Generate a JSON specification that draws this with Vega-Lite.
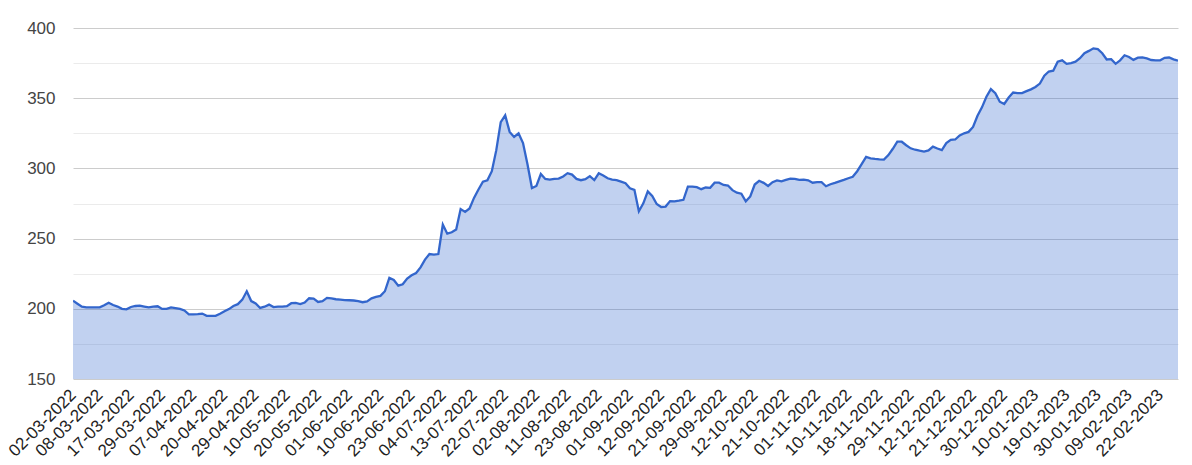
{
  "$schema": "https://vega.github.io/schema/vega-lite/v6.json",
  "width": 1105,
  "height": 351,
  "autosize": {"type": "none"},
  "padding": {"left": 73, "top": 28, "right": 14, "bottom": 86},
  "background": "white",
  "config": {"view": {"stroke": null}, "font": "Liberation Sans"},
  "data": {"values": [
    {"date":"02-03-2022","price":205.8},{"date":"03-03-2022","price":203.6},{"date":"04-03-2022","price":201.5},{"date":"05-03-2022","price":201},{"date":"06-03-2022","price":201},{"date":"07-03-2022","price":201},{"date":"08-03-2022","price":201},
    {"date":"09-03-2022","price":202.5},{"date":"10-03-2022","price":204.3},{"date":"11-03-2022","price":202.7},{"date":"14-03-2022","price":201.6},{"date":"15-03-2022","price":200},{"date":"16-03-2022","price":199.6},{"date":"17-03-2022","price":201.3},
    {"date":"18-03-2022","price":202},{"date":"21-03-2022","price":202.2},{"date":"22-03-2022","price":201.6},{"date":"23-03-2022","price":201},{"date":"24-03-2022","price":201.6},{"date":"28-03-2022","price":201.8},{"date":"29-03-2022","price":199.9},
    {"date":"30-03-2022","price":199.9},{"date":"31-03-2022","price":201},{"date":"01-04-2022","price":200.5},{"date":"04-04-2022","price":200},{"date":"05-04-2022","price":198.8},{"date":"06-04-2022","price":196},{"date":"07-04-2022","price":196},
    {"date":"08-04-2022","price":196.2},{"date":"11-04-2022","price":196.6},{"date":"12-04-2022","price":195},{"date":"13-04-2022","price":195},{"date":"18-04-2022","price":195},{"date":"19-04-2022","price":196.5},{"date":"20-04-2022","price":198.3},
    {"date":"21-04-2022","price":199.8},{"date":"22-04-2022","price":202},{"date":"25-04-2022","price":203.3},{"date":"26-04-2022","price":206.5},{"date":"27-04-2022","price":212.5},{"date":"28-04-2022","price":205.5},{"date":"29-04-2022","price":203.8},
    {"date":"02-05-2022","price":200.6},{"date":"03-05-2022","price":201.5},{"date":"04-05-2022","price":203},{"date":"05-05-2022","price":201.2},{"date":"06-05-2022","price":201.5},{"date":"09-05-2022","price":201.5},{"date":"10-05-2022","price":201.9},
    {"date":"11-05-2022","price":204},{"date":"12-05-2022","price":204.2},{"date":"13-05-2022","price":203.4},{"date":"17-05-2022","price":204.5},{"date":"18-05-2022","price":207.5},{"date":"19-05-2022","price":207.3},{"date":"20-05-2022","price":204.9},
    {"date":"23-05-2022","price":205.5},{"date":"24-05-2022","price":207.8},{"date":"25-05-2022","price":207.4},{"date":"26-05-2022","price":206.8},{"date":"30-05-2022","price":206.5},{"date":"31-05-2022","price":206.2},{"date":"01-06-2022","price":206.1},
    {"date":"02-06-2022","price":205.9},{"date":"03-06-2022","price":205.5},{"date":"06-06-2022","price":204.7},{"date":"07-06-2022","price":205.3},{"date":"08-06-2022","price":207.4},{"date":"09-06-2022","price":208.5},{"date":"10-06-2022","price":209.2},
    {"date":"13-06-2022","price":212.5},{"date":"14-06-2022","price":222},{"date":"16-06-2022","price":220.5},{"date":"17-06-2022","price":216.5},{"date":"21-06-2022","price":217.5},{"date":"22-06-2022","price":221.5},{"date":"23-06-2022","price":223.9},
    {"date":"24-06-2022","price":225.5},{"date":"27-06-2022","price":229.5},{"date":"28-06-2022","price":235},{"date":"29-06-2022","price":239},{"date":"30-06-2022","price":238.6},{"date":"01-07-2022","price":239},{"date":"04-07-2022","price":260},
    {"date":"05-07-2022","price":253.5},{"date":"06-07-2022","price":254.5},{"date":"07-07-2022","price":256.5},{"date":"08-07-2022","price":271},{"date":"11-07-2022","price":269},{"date":"12-07-2022","price":271.5},{"date":"13-07-2022","price":279},
    {"date":"14-07-2022","price":285},{"date":"15-07-2022","price":290.5},{"date":"18-07-2022","price":291.5},{"date":"19-07-2022","price":298},{"date":"20-07-2022","price":313},{"date":"21-07-2022","price":333},{"date":"22-07-2022","price":337.8},
    {"date":"25-07-2022","price":326},{"date":"26-07-2022","price":322.4},{"date":"27-07-2022","price":325},{"date":"28-07-2022","price":318},{"date":"29-07-2022","price":303},{"date":"01-08-2022","price":286},{"date":"02-08-2022","price":287.5},
    {"date":"03-08-2022","price":296},{"date":"04-08-2022","price":292.5},{"date":"05-08-2022","price":292},{"date":"08-08-2022","price":292.6},{"date":"09-08-2022","price":292.7},{"date":"10-08-2022","price":294.3},{"date":"11-08-2022","price":296.6},
    {"date":"12-08-2022","price":295.6},{"date":"16-08-2022","price":292.5},{"date":"17-08-2022","price":291.6},{"date":"18-08-2022","price":292.3},{"date":"19-08-2022","price":294.5},{"date":"22-08-2022","price":291.7},{"date":"23-08-2022","price":296.5},
    {"date":"24-08-2022","price":294.9},{"date":"25-08-2022","price":293},{"date":"26-08-2022","price":292},{"date":"29-08-2022","price":291.7},{"date":"30-08-2022","price":290.6},{"date":"31-08-2022","price":289.4},{"date":"01-09-2022","price":285.8},
    {"date":"02-09-2022","price":284.7},{"date":"05-09-2022","price":269.5},{"date":"06-09-2022","price":275.1},{"date":"07-09-2022","price":283.6},{"date":"08-09-2022","price":280.3},{"date":"09-09-2022","price":274.6},{"date":"12-09-2022","price":272.5},
    {"date":"13-09-2022","price":272.8},{"date":"14-09-2022","price":276.7},{"date":"15-09-2022","price":276.5},{"date":"16-09-2022","price":277},{"date":"19-09-2022","price":277.6},{"date":"20-09-2022","price":287},{"date":"21-09-2022","price":287},
    {"date":"22-09-2022","price":286.6},{"date":"23-09-2022","price":285.2},{"date":"24-09-2022","price":286.4},{"date":"26-09-2022","price":286.2},{"date":"27-09-2022","price":289.8},{"date":"28-09-2022","price":289.8},{"date":"29-09-2022","price":288.2},
    {"date":"30-09-2022","price":287.8},{"date":"03-10-2022","price":284.5},{"date":"04-10-2022","price":282.7},{"date":"06-10-2022","price":282},{"date":"10-10-2022","price":276.5},{"date":"11-10-2022","price":280},{"date":"12-10-2022","price":288.5},
    {"date":"13-10-2022","price":291.2},{"date":"14-10-2022","price":289.7},{"date":"17-10-2022","price":287.5},{"date":"18-10-2022","price":290.2},{"date":"19-10-2022","price":291.5},{"date":"20-10-2022","price":290.8},{"date":"21-10-2022","price":291.8},
    {"date":"24-10-2022","price":292.7},{"date":"25-10-2022","price":292.6},{"date":"26-10-2022","price":291.8},{"date":"27-10-2022","price":292},{"date":"28-10-2022","price":291.5},{"date":"31-10-2022","price":289.8},{"date":"01-11-2022","price":290.2},
    {"date":"02-11-2022","price":290.2},{"date":"03-11-2022","price":287.3},{"date":"04-11-2022","price":288.7},{"date":"07-11-2022","price":289.7},{"date":"08-11-2022","price":290.8},{"date":"09-11-2022","price":291.8},{"date":"10-11-2022","price":293},
    {"date":"11-11-2022","price":294},{"date":"12-11-2022","price":298},{"date":"14-11-2022","price":303},{"date":"15-11-2022","price":308.2},{"date":"16-11-2022","price":307.2},{"date":"17-11-2022","price":306.8},{"date":"18-11-2022","price":306.5},
    {"date":"21-11-2022","price":306.3},{"date":"22-11-2022","price":309.5},{"date":"23-11-2022","price":314},{"date":"24-11-2022","price":319},{"date":"25-11-2022","price":319},{"date":"28-11-2022","price":316.5},{"date":"29-11-2022","price":314.3},
    {"date":"30-11-2022","price":313.3},{"date":"01-12-2022","price":312.6},{"date":"02-12-2022","price":312},{"date":"05-12-2022","price":312.8},{"date":"07-12-2022","price":315.5},{"date":"09-12-2022","price":314.2},{"date":"12-12-2022","price":313},
    {"date":"13-12-2022","price":318},{"date":"14-12-2022","price":320.3},{"date":"15-12-2022","price":320.6},{"date":"16-12-2022","price":323.5},{"date":"19-12-2022","price":325},{"date":"20-12-2022","price":326},{"date":"21-12-2022","price":329.5},
    {"date":"22-12-2022","price":337.5},{"date":"23-12-2022","price":343.5},{"date":"26-12-2022","price":351},{"date":"27-12-2022","price":356.5},{"date":"28-12-2022","price":353.5},{"date":"29-12-2022","price":347.5},{"date":"30-12-2022","price":345.9},
    {"date":"02-01-2023","price":350.5},{"date":"03-01-2023","price":354},{"date":"04-01-2023","price":353.6},{"date":"05-01-2023","price":353.6},{"date":"06-01-2023","price":355},{"date":"09-01-2023","price":356.3},{"date":"10-01-2023","price":358},
    {"date":"11-01-2023","price":360.4},{"date":"12-01-2023","price":366},{"date":"13-01-2023","price":369},{"date":"16-01-2023","price":369.6},{"date":"17-01-2023","price":376},{"date":"18-01-2023","price":377},{"date":"19-01-2023","price":374.5},
    {"date":"20-01-2023","price":375},{"date":"23-01-2023","price":376},{"date":"24-01-2023","price":378.5},{"date":"25-01-2023","price":382},{"date":"26-01-2023","price":383.7},{"date":"27-01-2023","price":385.5},{"date":"30-01-2023","price":385},
    {"date":"31-01-2023","price":382},{"date":"01-02-2023","price":377.6},{"date":"02-02-2023","price":377.8},{"date":"03-02-2023","price":374.5},{"date":"06-02-2023","price":377},{"date":"08-02-2023","price":380.6},{"date":"09-02-2023","price":379.4},
    {"date":"10-02-2023","price":377.3},{"date":"13-02-2023","price":378.9},{"date":"14-02-2023","price":379},{"date":"16-02-2023","price":378.3},{"date":"17-02-2023","price":377.2},{"date":"21-02-2023","price":377},{"date":"22-02-2023","price":377},
    {"date":"23-02-2023","price":378.8},{"date":"24-02-2023","price":379},{"date":"27-02-2023","price":377.7},{"date":"28-02-2023","price":376.8}
  ]},
  "encoding": {
    "x": {
      "field": "date", "type": "ordinal", "sort": null,
      "scale": {"type": "point", "padding": 0},
      "axis": {
        "title": null, "domain": false, "ticks": false, "grid": false,
        "labelAngle": -45, "labelAlign": "right", "labelBaseline": "middle",
        "labelFontSize": 17, "labelColor": "#222222", "labelPadding": 13,
        "labelOverlap": false,
        "values": ["02-03-2022","08-03-2022","17-03-2022","29-03-2022","07-04-2022","20-04-2022","29-04-2022","10-05-2022","20-05-2022","01-06-2022","10-06-2022","23-06-2022","04-07-2022","13-07-2022","22-07-2022","02-08-2022","11-08-2022","23-08-2022","01-09-2022","12-09-2022","21-09-2022","29-09-2022","12-10-2022","21-10-2022","01-11-2022","10-11-2022","18-11-2022","29-11-2022","12-12-2022","21-12-2022","30-12-2022","10-01-2023","19-01-2023","30-01-2023","09-02-2023","22-02-2023"]
      }
    },
    "y": {
      "field": "price", "type": "quantitative",
      "scale": {"domain": [150, 400], "nice": false, "zero": false},
      "axis": {
        "title": null, "domain": false, "ticks": false,
        "values": [150, 175, 200, 225, 250, 275, 300, 325, 350, 375, 400],
        "labelExpr": "datum.value % 50 === 0 ? datum.label : ''",
        "labelFontSize": 17, "labelColor": "#444444", "labelPadding": 18,
        "gridColor": {"condition": {"test": "datum.value % 50 === 0", "value": "#cccccc"}, "value": "#ebebeb"},
        "gridWidth": 1
      }
    }
  },
  "layer": [
    {"mark": {"type": "area", "color": "#3366cc", "fillOpacity": 0.3, "clip": true}},
    {"mark": {"type": "line", "color": "#3366cc", "strokeWidth": 2.3, "clip": true}}
  ]
}
